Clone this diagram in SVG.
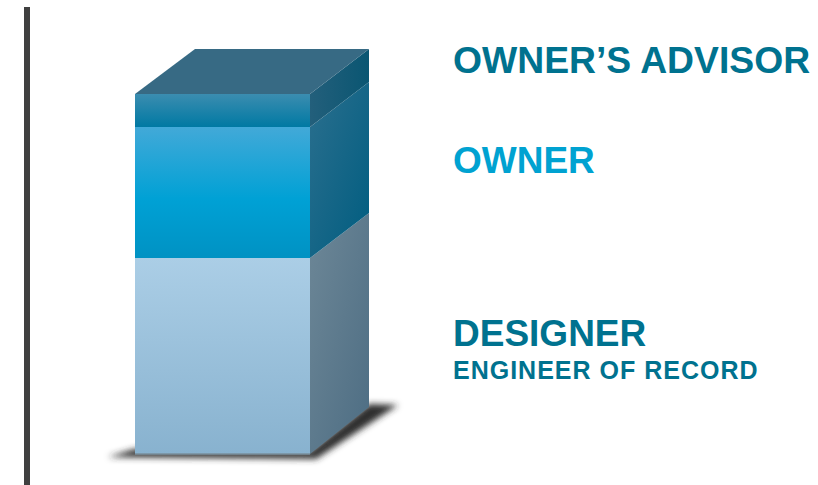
<svg xmlns="http://www.w3.org/2000/svg" width="818" height="485" viewBox="0 0 818 485">
  <defs>
    <style>
      .lbl { font-family: "Liberation Sans", Arial, sans-serif; font-weight: bold; }
      .dark { fill: #00728f; }
      .light { fill: #00a2d1; }
    </style>
    <linearGradient id="gAdvF" x1="0" y1="0" x2="0" y2="1">
      <stop offset="0" stop-color="#3b8db0"/>
      <stop offset="1" stop-color="#0079a3"/>
    </linearGradient>
    <linearGradient id="gAdvR" x1="0" y1="0" x2="1" y2="0">
      <stop offset="0" stop-color="#235f7b"/>
      <stop offset="1" stop-color="#0a5672"/>
    </linearGradient>
    <linearGradient id="gOwnF" x1="0" y1="0" x2="0" y2="1">
      <stop offset="0" stop-color="#42a9d8"/>
      <stop offset="0.55" stop-color="#00a1d5"/>
      <stop offset="1" stop-color="#0092c3"/>
    </linearGradient>
    <linearGradient id="gOwnR" x1="0" y1="0" x2="1" y2="1">
      <stop offset="0" stop-color="#2b6f8e"/>
      <stop offset="1" stop-color="#005d80"/>
    </linearGradient>
    <linearGradient id="gDesF" x1="0" y1="0" x2="0" y2="1">
      <stop offset="0" stop-color="#abcee6"/>
      <stop offset="1" stop-color="#88b2cf"/>
    </linearGradient>
    <linearGradient id="gDesR" x1="0" y1="0" x2="1" y2="1">
      <stop offset="0" stop-color="#6d8797"/>
      <stop offset="1" stop-color="#4d6d83"/>
    </linearGradient>
    <filter id="blur" x="-20%" y="-50%" width="140%" height="200%">
      <feGaussianBlur stdDeviation="3"/>
    </filter>
  </defs>

  <rect x="0" y="0" width="818" height="485" fill="#ffffff"/>

  <rect id="axis" x="24" y="7" width="6" height="478" fill="#404040"/>

  <g id="shadow">
    <polygon points="108,457 316,459 398,405 369,404 310,451 135,449" fill="#2e2e2e" filter="url(#blur)"/>
  </g>

  <g id="layer-designer">
    <rect x="135" y="258" width="175" height="196" fill="url(#gDesF)"/>
    <polygon points="310,258 369,213 369,407 310,454" fill="url(#gDesR)"/>
    <line x1="135" y1="454" x2="310" y2="454" stroke="#7a8f9c" stroke-width="1.5"/>
  </g>

  <g id="layer-owner">
    <rect x="135" y="127" width="175" height="131" fill="url(#gOwnF)"/>
    <polygon points="310,127 369,82 369,213 310,258" fill="url(#gOwnR)"/>
  </g>

  <g id="layer-advisor">
    <rect x="135" y="94" width="175" height="33" fill="url(#gAdvF)"/>
    <polygon points="310,94 369,49 369,82 310,127" fill="url(#gAdvR)"/>
    <polygon points="135,94 195,49 369,49 310,94" fill="#376a84"/>
  </g>

  <g id="label-advisor">
    <text class="lbl dark" x="453" y="73" font-size="37.3">OWNER’S ADVISOR</text>
  </g>
  <g id="label-owner">
    <text class="lbl light" x="453" y="173" font-size="37">OWNER</text>
  </g>
  <g id="label-designer">
    <text class="lbl dark" x="453" y="346" font-size="37">DESIGNER</text>
    <text class="lbl dark" x="453" y="379" font-size="25" letter-spacing="1">ENGINEER OF RECORD</text>
  </g>
</svg>
